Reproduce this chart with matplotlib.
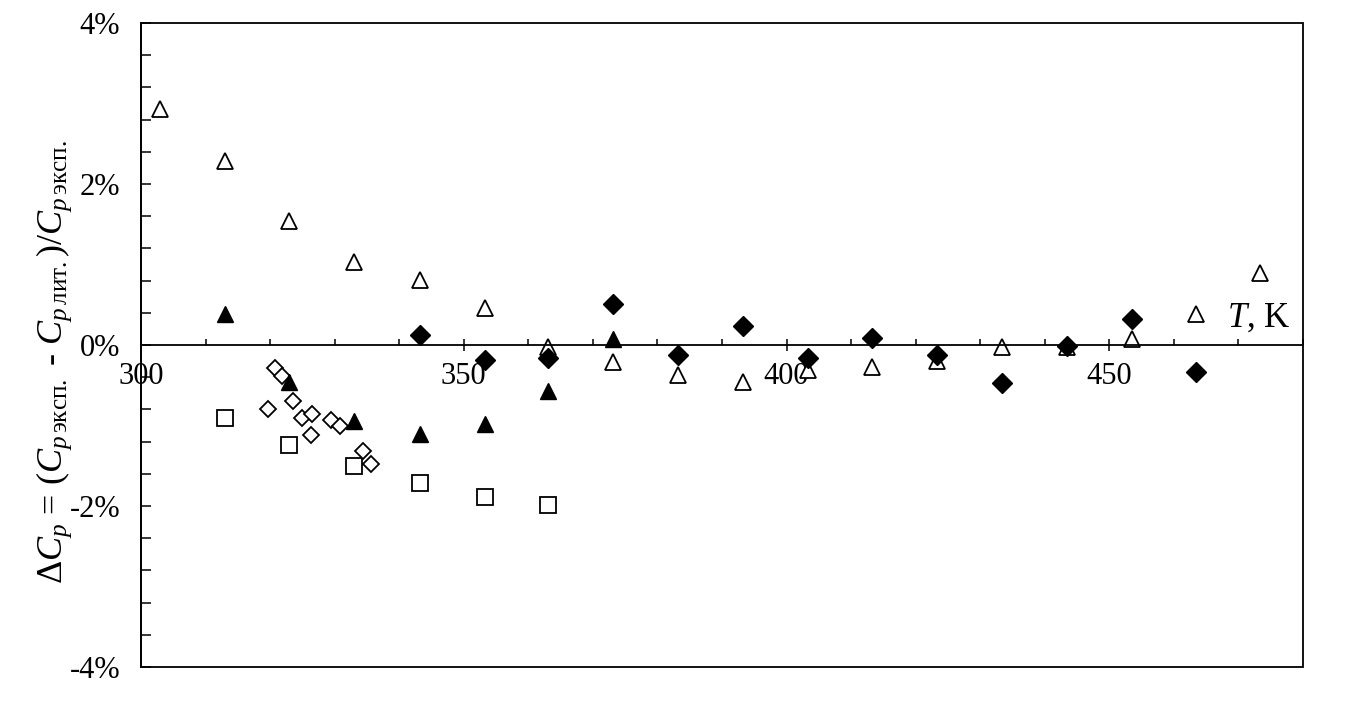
import matplotlib
matplotlib.use("Agg")
import matplotlib.pyplot as plt
from matplotlib.ticker import MultipleLocator, FuncFormatter

plt.rcParams["font.family"] = ["Liberation Serif", "DejaVu Serif"]
plt.rcParams["mathtext.fontset"] = "custom"
plt.rcParams["mathtext.rm"] = "Liberation Serif"
plt.rcParams["mathtext.it"] = "Liberation Serif:italic"
plt.rcParams["mathtext.bf"] = "Liberation Serif:bold"

# open triangles
T_tri_open = [303, 313, 323, 333, 343.2, 353.3, 363, 373.1, 383.2, 393.2,
              403.3, 413.3, 423.3, 433.4, 443.4, 453.5, 463.5, 473.4]
dC_tri_open = [2.93, 2.28, 1.54, 1.03, 0.81, 0.46, -0.02, -0.21, -0.37, -0.46,
               -0.31, -0.27, -0.20, -0.03, -0.02, 0.07, 0.38, 0.89]

# filled triangles
T_tri_fill = [313, 323, 333, 343.2, 353.3, 363, 373.1]
dC_tri_fill = [0.38, -0.46, -0.95, -1.10, -0.98, -0.57, 0.07]

# filled diamonds
T_dia_fill = [343.2, 353.3, 363, 373.1, 383.2, 393.2, 403.3, 413.3, 423.3,
              433.4, 443.4, 453.5, 463.5]
dC_dia_fill = [0.12, -0.19, -0.16, 0.51, -0.12, 0.24, -0.16, 0.09, -0.12,
               -0.47, -0.01, 0.32, -0.33]

# open squares
T_sq = [313, 323, 333, 343.2, 353.3, 363]
dC_sq = [-0.91, -1.24, -1.50, -1.71, -1.89, -1.99]

# open diamonds
T_dia_open = [319.7, 320.7, 321.9, 323.6, 324.9, 326.4, 326.5, 329.5, 330.8,
              334.4, 335.6]
dC_dia_open = [-0.79, -0.28, -0.39, -0.70, -0.91, -1.12, -0.86, -0.93, -1.00,
               -1.32, -1.48]

fig = plt.figure(figsize=(13.58, 7.09), dpi=100)
ax = fig.add_axes([0.1038, 0.0592, 0.8557, 0.9084])

ax.plot(T_sq, dC_sq, ls="none", marker="s", ms=11.5, mfc="white",
        mec="black", mew=1.3)
ax.plot(T_dia_open, dC_dia_open, ls="none", marker="D", ms=8.5, mfc="white",
        mec="black", mew=1.3)
ax.plot(T_tri_fill, dC_tri_fill, ls="none", marker="^", ms=11.5, mfc="black",
        mec="black", mew=1.0)
ax.plot(T_tri_open, dC_tri_open, ls="none", marker="^", ms=11.5, mfc="white",
        mec="black", mew=1.3)
ax.plot(T_dia_fill, dC_dia_fill, ls="none", marker="D", ms=10.5, mfc="black",
        mec="black", mew=1.0)

ax.set_xlim(300, 480)
ax.set_ylim(-4, 4)

# frame around plot area, x axis goes through zero
ax.patch.set_edgecolor("black")
ax.patch.set_linewidth(1.3)
ax.spines["top"].set_visible(False)
ax.spines["right"].set_visible(False)
ax.spines["bottom"].set_position(("data", 0))
for s in ["left", "bottom"]:
    ax.spines[s].set_linewidth(1.3)

ax.xaxis.set_major_locator(MultipleLocator(50))
ax.xaxis.set_minor_locator(MultipleLocator(10))
ax.tick_params(axis="x", which="major", direction="inout", length=8.5,
               width=1.1, pad=8, labelsize=22)
ax.tick_params(axis="x", which="minor", direction="in", length=4.2, width=1.1)

ax.yaxis.set_major_locator(MultipleLocator(2))
ax.yaxis.set_minor_locator(MultipleLocator(0.4))
ax.yaxis.set_major_formatter(FuncFormatter(lambda v, p: "%d%%" % round(v)))
ax.tick_params(axis="y", which="both", direction="in", length=7, width=1.1,
               pad=15, labelsize=22)

ax.text(0.989, 0.528, r"$T$, K", transform=ax.transAxes, fontsize=25,
        ha="right", va="baseline")

ax.set_ylabel(r"$\Delta C_p$ = ($C_{p\,\mathrm{эксп.}}$ - $C_{p\,\mathrm{лит.}}$)/$C_{p\,\mathrm{эксп.}}$",
              fontsize=26, va="center")
ax.yaxis.set_label_coords(-0.075, 0.474)

fig.savefig("out.png", dpi=100)
